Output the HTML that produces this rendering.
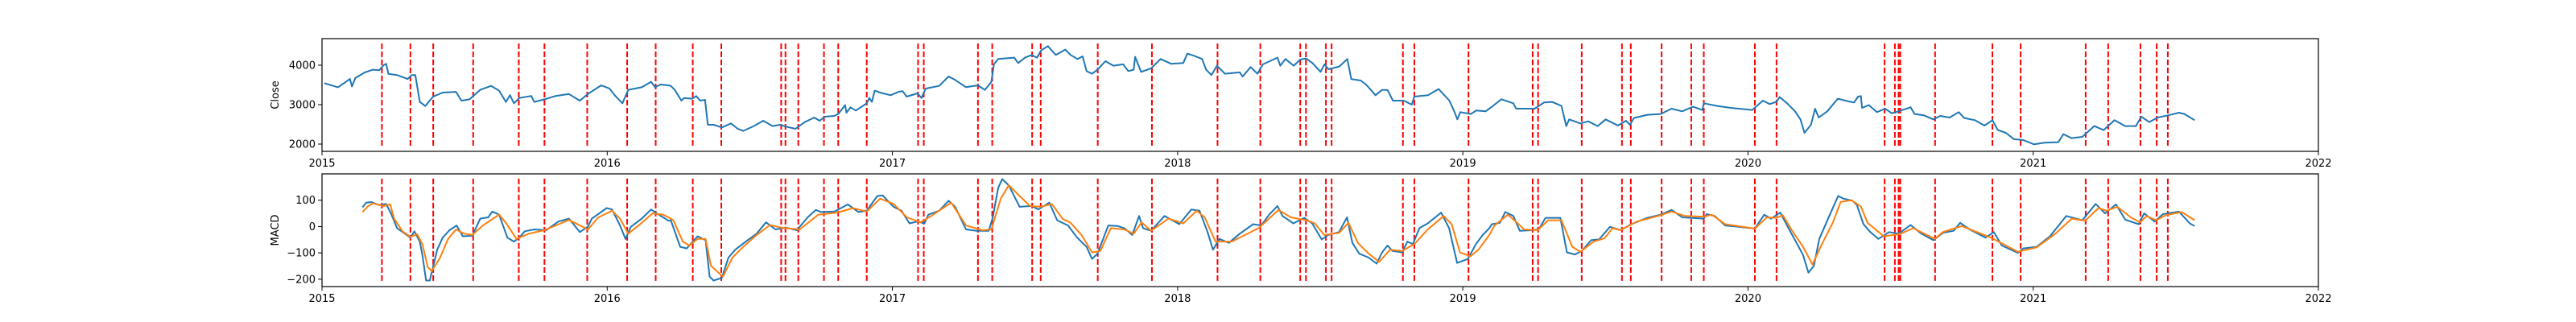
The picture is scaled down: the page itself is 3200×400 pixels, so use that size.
<!DOCTYPE html>
<html><head><meta charset="utf-8">
<style>
html,body{margin:0;padding:0;background:#fff;}
svg{display:block;font-family:"DejaVu Sans","Liberation Sans",sans-serif;}
</style></head>
<body>
<svg id="chart" width="3200" height="400" viewBox="0 0 3200 400" xmlns="http://www.w3.org/2000/svg"></svg>
<script>
const xTicks = [2015,2016,2017,2018,2019,2020,2021,2022];
const xTickLabels = ["2015","2016","2017","2018","2019","2020","2021","2022"];
const closeTicks = [2000,3000,4000];
const macdTicks = [-200,-100,0,100];
const macdTickLabels = ["\u2212200","\u2212100","0","100"];
const signalDates = [2015.21,2015.31,2015.39,2015.53,2015.69,2015.78,2015.93,2016.07,2016.17,2016.30,2016.40,2016.61,2016.625,2016.67,2016.76,2016.81,2016.91,2017.09,2017.11,2017.30,2017.35,2017.49,2017.52,2017.72,2017.91,2018.14,2018.29,2018.43,2018.45,2018.52,2018.54,2018.79,2018.83,2019.02,2019.245,2019.264,2019.417,2019.558,2019.589,2019.697,2019.801,2019.845,2020.024,2020.10,2020.479,2020.515,2020.528,2020.534,2020.656,2020.857,2020.956,2021.184,2021.263,2021.376,2021.433,2021.472];
const closeSeries = [[2015.008,3545],[2015.056,3440],[2015.084,3580],[2015.098,3650],[2015.105,3460],[2015.117,3680],[2015.150,3815],[2015.178,3885],[2015.20,3870],[2015.216,4000],[2015.225,4035],[2015.233,3780],[2015.263,3750],[2015.30,3650],[2015.315,3750],[2015.327,3750],[2015.343,3070],[2015.362,2965],[2015.39,3205],[2015.423,3305],[2015.47,3325],[2015.489,3100],[2015.517,3135],[2015.555,3375],[2015.593,3475],[2015.621,3355],[2015.645,3070],[2015.659,3240],[2015.673,3035],[2015.692,3170],[2015.734,3220],[2015.744,3070],[2015.78,3135],[2015.819,3220],[2015.866,3270],[2015.904,3100],[2015.932,3270],[2015.979,3490],[2016.008,3410],[2016.026,3240],[2016.053,3035],[2016.074,3375],[2016.121,3440],[2016.154,3580],[2016.168,3440],[2016.187,3510],[2016.215,3490],[2016.223,3476],[2016.237,3374],[2016.26,3102],[2016.27,3170],[2016.298,3150],[2016.312,3218],[2016.326,3102],[2016.343,3123],[2016.353,2490],[2016.373,2490],[2016.402,2422],[2016.434,2524],[2016.458,2388],[2016.477,2334],[2016.514,2456],[2016.547,2592],[2016.58,2456],[2016.607,2490],[2016.627,2442],[2016.66,2388],[2016.693,2558],[2016.726,2674],[2016.745,2592],[2016.763,2694],[2016.796,2714],[2016.81,2762],[2016.834,2987],[2016.839,2796],[2016.853,2932],[2016.872,2850],[2016.91,3034],[2016.919,3170],[2016.928,3068],[2016.938,3354],[2016.957,3306],[2016.994,3238],[2017.022,3327],[2017.036,3340],[2017.05,3204],[2017.088,3286],[2017.102,3170],[2017.117,3408],[2017.164,3476],[2017.197,3714],[2017.22,3626],[2017.258,3442],[2017.3,3490],[2017.324,3374],[2017.347,3578],[2017.356,4021],[2017.371,4157],[2017.427,4191],[2017.441,4055],[2017.465,4191],[2017.488,4259],[2017.507,4191],[2017.521,4374],[2017.545,4483],[2017.573,4259],[2017.606,4395],[2017.625,4259],[2017.649,4157],[2017.667,4225],[2017.681,3851],[2017.70,3783],[2017.719,3885],[2017.747,4102],[2017.775,3987],[2017.809,4021],[2017.827,3851],[2017.846,3885],[2017.851,4211],[2017.872,3830],[2017.907,3919],[2017.94,4157],[2017.978,4034],[2018.02,4055],[2018.034,4293],[2018.058,4238],[2018.086,4157],[2018.1,3885],[2018.119,3748],[2018.138,3987],[2018.166,3783],[2018.218,3817],[2018.228,3714],[2018.256,3953],[2018.28,3783],[2018.299,4021],[2018.35,4191],[2018.36,3987],[2018.378,4157],[2018.407,3987],[2018.43,4143],[2018.45,4170],[2018.473,4055],[2018.501,3830],[2018.515,4021],[2018.529,3898],[2018.567,3966],[2018.595,4157],[2018.609,3647],[2018.642,3612],[2018.661,3510],[2018.694,3238],[2018.717,3374],[2018.736,3374],[2018.755,3102],[2018.793,3102],[2018.821,3000],[2018.83,3204],[2018.878,3238],[2018.915,3395],[2018.953,3102],[2018.972,2796],[2018.981,2626],[2018.991,2810],[2019.028,2762],[2019.047,2850],[2019.08,2830],[2019.102,2946],[2019.135,3136],[2019.177,3034],[2019.187,2898],[2019.224,2898],[2019.252,2898],[2019.285,3055],[2019.313,3068],[2019.346,2966],[2019.356,2660],[2019.363,2456],[2019.373,2626],[2019.412,2524],[2019.44,2578],[2019.473,2456],[2019.501,2626],[2019.544,2470],[2019.572,2592],[2019.586,2490],[2019.6,2660],[2019.647,2742],[2019.694,2762],[2019.732,2898],[2019.769,2830],[2019.807,2946],[2019.84,2864],[2019.845,3034],[2019.892,2966],[2019.939,2918],[2020.015,2864],[2020.052,3102],[2020.076,3014],[2020.099,3068],[2020.111,3191],[2020.137,3034],[2020.165,2830],[2020.184,2626],[2020.198,2286],[2020.221,2490],[2020.235,2898],[2020.248,2674],[2020.278,2830],[2020.315,3150],[2020.353,3082],[2020.372,3055],[2020.386,3204],[2020.396,3218],[2020.4,2918],[2020.424,2987],[2020.452,2810],[2020.481,2898],[2020.504,2782],[2020.528,2830],[2020.57,2932],[2020.584,2762],[2020.617,2728],[2020.65,2626],[2020.674,2714],[2020.707,2674],[2020.739,2810],[2020.758,2660],[2020.796,2606],[2020.829,2470],[2020.857,2606],[2020.876,2354],[2020.904,2286],[2020.932,2129],[2020.965,2102],[2021.003,1993],[2021.04,2034],[2021.088,2048],[2021.106,2252],[2021.134,2150],[2021.172,2184],[2021.214,2456],[2021.247,2354],[2021.285,2606],[2021.322,2456],[2021.36,2456],[2021.379,2694],[2021.407,2558],[2021.436,2674],[2021.473,2728],[2021.511,2796],[2021.53,2762],[2021.566,2606]];
const macdSeries = [[2015.142,73],[2015.155,91],[2015.173,93],[2015.202,81],[2015.225,86],[2015.244,45],[2015.263,-6],[2015.291,-27],[2015.31,-42],[2015.324,-18],[2015.343,-57],[2015.352,-108],[2015.365,-205],[2015.378,-205],[2015.404,-88],[2015.423,-42],[2015.447,-14],[2015.472,4],[2015.494,-37],[2015.527,-35],[2015.555,30],[2015.583,35],[2015.597,57],[2015.621,45],[2015.65,-42],[2015.673,-57],[2015.692,-42],[2015.711,-18],[2015.744,-11],[2015.786,-14],[2015.829,19],[2015.866,30],[2015.904,-21],[2015.932,-1],[2015.946,30],[2015.998,70],[2016.017,65],[2016.045,4],[2016.064,-47],[2016.083,-1],[2016.121,30],[2016.154,65],[2016.178,47],[2016.215,22],[2016.223,24],[2016.256,-77],[2016.279,-83],[2016.317,-37],[2016.345,-52],[2016.359,-190],[2016.373,-205],[2016.402,-195],[2016.425,-118],[2016.449,-88],[2016.486,-57],[2016.524,-27],[2016.557,16],[2016.59,-11],[2016.627,-4],[2016.665,-14],[2016.703,35],[2016.731,63],[2016.75,55],[2016.797,57],[2016.844,84],[2016.881,55],[2016.91,60],[2016.947,116],[2016.966,118],[2017.004,75],[2017.032,60],[2017.06,12],[2017.088,19],[2017.112,12],[2017.126,45],[2017.164,60],[2017.197,98],[2017.22,75],[2017.258,-11],[2017.296,-16],[2017.338,-16],[2017.352,35],[2017.371,147],[2017.385,180],[2017.408,157],[2017.446,75],[2017.488,78],[2017.512,65],[2017.55,91],[2017.578,24],[2017.616,4],[2017.648,-42],[2017.681,-77],[2017.7,-123],[2017.719,-103],[2017.757,4],[2017.79,2],[2017.813,-6],[2017.841,-32],[2017.865,40],[2017.879,-6],[2017.907,-16],[2017.954,40],[2018.006,9],[2018.048,65],[2018.077,60],[2018.105,-21],[2018.124,-88],[2018.147,-47],[2018.18,-62],[2018.218,-27],[2018.265,9],[2018.293,4],[2018.321,45],[2018.35,78],[2018.368,40],[2018.406,12],[2018.444,33],[2018.472,12],[2018.505,-49],[2018.528,-32],[2018.566,-21],[2018.594,35],[2018.613,-62],[2018.637,-103],[2018.67,-118],[2018.698,-141],[2018.717,-98],[2018.736,-72],[2018.754,-93],[2018.787,-98],[2018.806,-57],[2018.825,-67],[2018.848,-6],[2018.877,12],[2018.924,53],[2018.952,-6],[2018.98,-138],[2019.018,-123],[2019.046,-67],[2019.07,-32],[2019.093,-6],[2019.102,9],[2019.13,14],[2019.149,55],[2019.177,40],[2019.2,-16],[2019.243,-14],[2019.266,-11],[2019.29,33],[2019.342,33],[2019.365,-98],[2019.393,-106],[2019.417,-93],[2019.45,-52],[2019.478,-49],[2019.516,-1],[2019.553,-14],[2019.591,9],[2019.647,33],[2019.694,45],[2019.732,63],[2019.77,35],[2019.845,30],[2019.855,47],[2019.883,40],[2019.92,4],[2019.967,-1],[2020.024,-8],[2020.057,45],[2020.081,30],[2020.113,53],[2020.137,4],[2020.165,-52],[2020.193,-108],[2020.212,-175],[2020.231,-149],[2020.25,-47],[2020.287,45],[2020.316,116],[2020.334,106],[2020.367,98],[2020.382,81],[2020.405,9],[2020.429,-21],[2020.457,-47],[2020.495,-21],[2020.528,-27],[2020.57,6],[2020.608,-27],[2020.65,-52],[2020.683,-24],[2020.721,-16],[2020.744,14],[2020.777,-11],[2020.833,-42],[2020.862,-21],[2020.89,-72],[2020.946,-100],[2020.965,-83],[2021.012,-77],[2021.059,-37],[2021.116,40],[2021.172,24],[2021.219,86],[2021.252,50],[2021.29,84],[2021.323,26],[2021.37,9],[2021.389,50],[2021.426,19],[2021.455,47],[2021.511,57],[2021.549,12],[2021.566,2]];
const signalSeries = [[2015.142,55],[2015.16,76],[2015.178,88],[2015.216,78],[2015.239,84],[2015.253,30],[2015.282,-18],[2015.31,-39],[2015.334,-29],[2015.352,-67],[2015.371,-154],[2015.385,-169],[2015.414,-118],[2015.442,-47],[2015.47,-11],[2015.498,-27],[2015.527,-32],[2015.564,4],[2015.621,45],[2015.645,14],[2015.682,-47],[2015.725,-27],[2015.78,-14],[2015.866,25],[2015.932,-11],[2015.969,35],[2016.017,60],[2016.045,30],[2016.074,-27],[2016.121,14],[2016.159,50],[2016.196,45],[2016.215,35],[2016.232,24],[2016.265,-57],[2016.288,-72],[2016.317,-47],[2016.345,-47],[2016.364,-149],[2016.406,-190],[2016.439,-118],[2016.477,-77],[2016.524,-32],[2016.571,6],[2016.609,-4],[2016.675,-11],[2016.74,45],[2016.806,53],[2016.862,70],[2016.91,57],[2016.957,106],[2017.004,86],[2017.051,35],[2017.098,16],[2017.136,40],[2017.206,91],[2017.258,4],[2017.315,-14],[2017.347,-11],[2017.38,106],[2017.408,157],[2017.446,116],[2017.483,78],[2017.521,75],[2017.559,86],[2017.597,29],[2017.625,14],[2017.663,-32],[2017.7,-98],[2017.729,-93],[2017.766,-6],[2017.813,-11],[2017.846,-27],[2017.874,16],[2017.907,-16],[2017.968,30],[2018.02,12],[2018.067,60],[2018.095,35],[2018.133,-57],[2018.19,-57],[2018.284,-6],[2018.354,63],[2018.397,35],[2018.453,24],[2018.481,12],[2018.514,-32],[2018.566,-24],[2018.599,14],[2018.632,-62],[2018.67,-103],[2018.707,-134],[2018.745,-88],[2018.787,-93],[2018.83,-67],[2018.877,-11],[2018.933,40],[2018.961,9],[2018.99,-98],[2019.027,-113],[2019.055,-88],[2019.093,-32],[2019.111,4],[2019.158,45],[2019.186,19],[2019.215,-11],[2019.262,-14],[2019.299,24],[2019.346,24],[2019.384,-77],[2019.412,-96],[2019.459,-57],[2019.497,-45],[2019.525,-6],[2019.553,-14],[2019.61,19],[2019.685,40],[2019.732,57],[2019.779,40],[2019.845,37],[2019.873,45],[2019.92,9],[2020.024,-8],[2020.066,35],[2020.099,33],[2020.122,43],[2020.155,-16],[2020.193,-77],[2020.226,-144],[2020.259,-67],[2020.297,14],[2020.325,94],[2020.363,100],[2020.396,76],[2020.419,14],[2020.476,-37],[2020.532,-29],[2020.579,-6],[2020.655,-47],[2020.683,-21],[2020.749,2],[2020.852,-42],[2020.946,-96],[2021.012,-79],[2021.078,-27],[2021.135,30],[2021.182,22],[2021.229,70],[2021.257,60],[2021.295,75],[2021.342,35],[2021.375,16],[2021.398,40],[2021.431,24],[2021.464,43],[2021.521,55],[2021.566,24]];

const NS = "http://www.w3.org/2000/svg";
const svg = document.getElementById('chart');
const X0 = 400, X1 = 2880, T0 = 2015, T1 = 2022;
function xScale(t){ return X0 + (t - T0) / (T1 - T0) * (X1 - X0); }
function mk(tag, attrs, parent){ const e = document.createElementNS(NS, tag); for (const k in attrs) e.setAttribute(k, attrs[k]); (parent||svg).appendChild(e); return e; }

function drawPanel(cfg){
  const g = mk('g', {});
  
  
  const yScale = v => cfg.top + (cfg.vmax - v) / (cfg.vmax - cfg.vmin) * (cfg.bottom - cfg.top);
  // signal lines
  signalDates.forEach((d, i) => {
    const l = mk('line', {x1: xScale(d), x2: xScale(d), y1: yScale(cfg.vlTop), y2: yScale(cfg.vlBot), stroke: '#ff0000', 'stroke-width': 2, 'stroke-dasharray': '7,3'}, g);
    
    
  });
  cfg.series.forEach(s => {
    const p = mk('polyline', {points: s.data.map(d => xScale(d[0]).toFixed(1) + ',' + yScale(d[1]).toFixed(1)).join(' '), fill: 'none', stroke: s.color, 'stroke-width': 2, 'stroke-linejoin': 'round'}, g);
    
    
  });
  const frame = mk('rect', {x: X0, y: cfg.top, width: X1 - X0, height: cfg.bottom - cfg.top, fill: 'none', stroke: '#000', 'stroke-width': 1.2}, g);
  
  
  cfg.yTicks.forEach((v, i) => {
    const y = yScale(v);
    mk('line', {x1: X0 - 5, x2: X0, y1: y, y2: y, stroke: '#000', 'stroke-width': 1}, g);
    const t = mk('text', {x: X0 - 8, y: y + 4.5, 'text-anchor': 'end', 'font-size': 13, fill: '#000'}, g);
    t.textContent = cfg.yLabels[i];
    
    
  });
  xTicks.forEach((v, i) => {
    const x = xScale(v);
    mk('line', {x1: x, x2: x, y1: cfg.bottom, y2: cfg.bottom + 5, stroke: '#000', 'stroke-width': 1}, g);
    const t = mk('text', {x: x, y: cfg.bottom + 19, 'text-anchor': 'middle', 'font-size': 13, fill: '#000'}, g);
    t.textContent = xTickLabels[i];
    
    
  });
  const yl = mk('text', {x: 0, y: 0, 'text-anchor': 'middle', 'font-size': 13, fill: '#000', transform: 'translate(' + (cfg.labelX) + ',' + ((cfg.top + cfg.bottom) / 2) + ') rotate(-90)'}, g);
  yl.textContent = cfg.yTitle;
  
  
}

drawPanel({name: 'close', top: 48, bottom: 188, vmin: 1816, vmax: 4673, vlTop: 4551, vlBot: 1939,
  yTicks: closeTicks, yLabels: closeTicks.map(String), yTitle: 'Close', labelX: 346,
  series: [{name: 'close-line', data: closeSeries, color: '#1f77b4'}]});
drawPanel({name: 'macd', top: 216, bottom: 356, vmin: -228, vmax: 200, vlTop: 182, vlBot: -210,
  yTicks: macdTicks, yLabels: macdTickLabels, yTitle: 'MACD', labelX: 346,
  series: [{name: 'macd-line', data: macdSeries, color: '#1f77b4'}, {name: 'signal-line-series', data: signalSeries, color: '#ff7f0e'}]});
</script>
</body></html>
